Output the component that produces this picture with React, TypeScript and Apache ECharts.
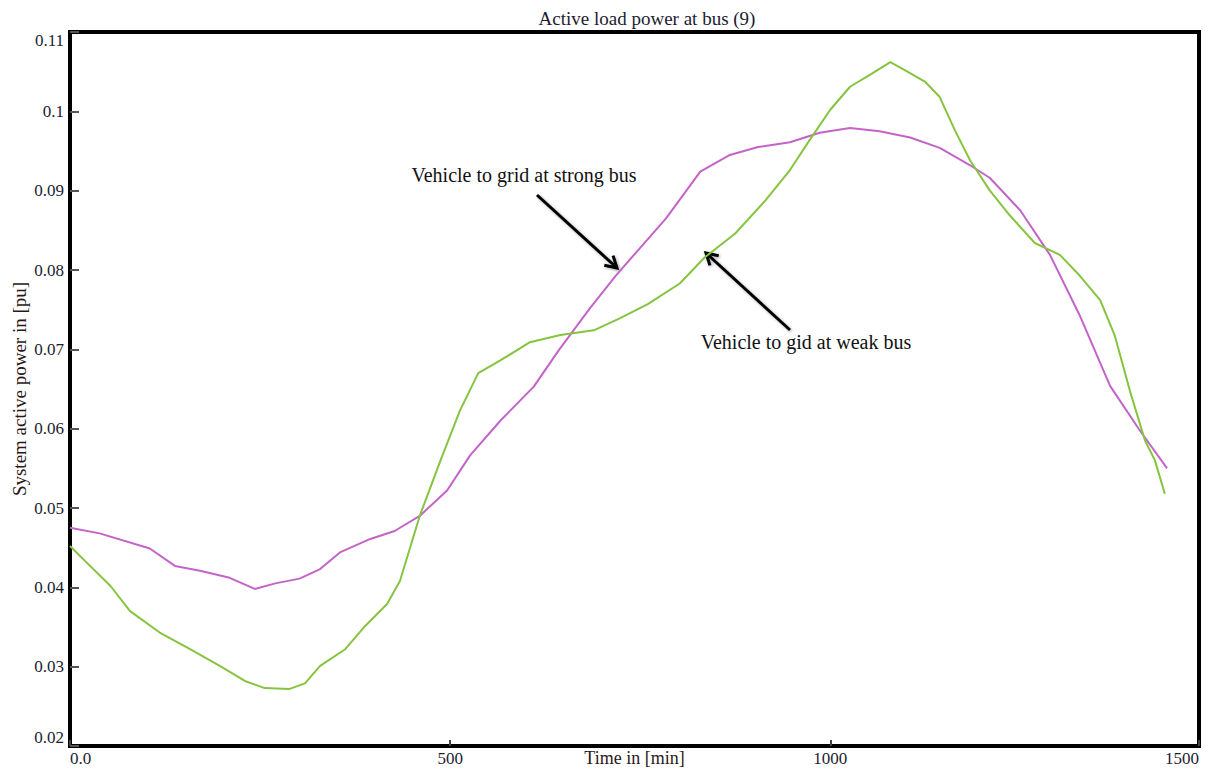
import React, { useEffect, useRef } from "react";
import * as echarts from "echarts";

// Time axis (minutes) and active power (pu) for the two V2G cases
const strongTime = [0, 39, 105, 138, 171, 210, 243, 270, 302, 329, 355, 395, 427, 460, 496, 526, 566, 610, 643, 684, 718, 750, 784, 829, 868, 905, 947, 986, 1026, 1065, 1105, 1144, 1184, 1210, 1250, 1289, 1328, 1368, 1407, 1443];
const strongPower = [0.0475, 0.0468, 0.0449, 0.0427, 0.0421, 0.0412, 0.0398, 0.0405, 0.0411, 0.0423, 0.0444, 0.0461, 0.0471, 0.049, 0.0522, 0.0566, 0.061, 0.0653, 0.0699, 0.0752, 0.0793, 0.0828, 0.0865, 0.0924, 0.0945, 0.0955, 0.0961, 0.0973, 0.0979, 0.0975, 0.0967, 0.0954, 0.0932, 0.0916, 0.0875, 0.0819, 0.0743, 0.0654, 0.0598, 0.055];

const weakTime = [0, 20, 53, 79, 118, 158, 197, 230, 256, 289, 309, 329, 362, 388, 417, 434, 460, 487, 513, 537, 566, 605, 645, 689, 723, 760, 802, 835, 875, 915, 947, 973, 1000, 1026, 1052, 1079, 1098, 1125, 1144, 1164, 1184, 1210, 1236, 1269, 1302, 1328, 1355, 1374, 1394, 1414, 1427, 1440];
const weakPower = [0.0452, 0.0433, 0.0402, 0.037, 0.0343, 0.0322, 0.0301, 0.0282, 0.0273, 0.0272, 0.0279, 0.0301, 0.0322, 0.0351, 0.0379, 0.0408, 0.049, 0.0559, 0.0623, 0.067, 0.0686, 0.0709, 0.0718, 0.0724, 0.0739, 0.0757, 0.0783, 0.0816, 0.0846, 0.0888, 0.0926, 0.0964, 0.1002, 0.1031, 0.1046, 0.1062, 0.1052, 0.1037, 0.1018, 0.0976, 0.0938, 0.09, 0.0869, 0.0834, 0.0819, 0.0793, 0.0762, 0.0718, 0.0648, 0.0585, 0.056, 0.0518];

const xTickLabels = ["0.0", "500", "1000", "1500"];
const X_MAX = 1485;

const FONT = "'Liberation Serif', 'Times New Roman', serif";
const TEXT = "#1c1c30";

// Arrow drawn as a shaft plus an open V head
function arrow(x1: number, y1: number, x2: number, y2: number) {
  const dx = x2 - x1;
  const dy = y2 - y1;
  const len = Math.hypot(dx, dy);
  const ux = -dx / len;
  const uy = -dy / len;
  const h = 13;
  const c = Math.cos(Math.PI / 6);
  const s = Math.sin(Math.PI / 6);
  const a = [x2 + h * (ux * c - uy * s), y2 + h * (ux * s + uy * c)];
  const b = [x2 + h * (ux * c + uy * s), y2 + h * (-ux * s + uy * c)];
  const style = { stroke: "#000", lineWidth: 3, fill: null, shadowBlur: 3, shadowColor: "rgba(0,0,0,0.35)", shadowOffsetX: 1, shadowOffsetY: 1 };
  return [
    { type: "line", shape: { x1, y1, x2, y2 }, style },
    { type: "polyline", shape: { points: [a, [x2, y2], b] }, style },
  ];
}

export default function App() {
  const ref = useRef<HTMLDivElement>(null);

  useEffect(() => {
    if (!ref.current) return;
    const chart = echarts.init(ref.current, null, { renderer: "svg" });

    const strong = strongTime.map((t, i) => [t, strongPower[i]]);
    const weak = weakTime.map((t, i) => [t, weakPower[i]]);

    chart.setOption({
      animation: false,
      backgroundColor: "#fff",
      title: {
        text: "Active load power at bus (9)",
        left: 642,
        top: 4,
        textAlign: "center",
        textStyle: { fontFamily: FONT, fontSize: 19, fontWeight: "normal", color: TEXT },
      },
      grid: {
        left: 70,
        right: 16,
        top: 32,
        bottom: 25,
        outerBoundsMode: "none",
        containLabel: false,
        show: true,
        borderColor: "#000",
        borderWidth: 4,
        backgroundColor: "#fff",
      },
      xAxis: {
        type: "value",
        min: 0,
        max: X_MAX,
        interval: 500,
        name: "Time in [min]",
        nameLocation: "middle",
        nameGap: 3,
        nameMoveOverlap: false,
        nameTextStyle: { fontFamily: FONT, fontSize: 18, color: "#2a1818", verticalAlign: "top" },
        axisLine: { show: false },
        splitLine: { show: false },
        axisTick: { show: true, inside: true, length: 6, lineStyle: { color: "#444", width: 2 } },
        axisLabel: {
          margin: 4,
          fontFamily: FONT,
          fontSize: 17,
          color: TEXT,
          showMinLabel: true,
          showMaxLabel: true,
          alignMinLabel: "left",
          alignMaxLabel: "right",
          formatter: (v: number) => {
            if (v === 0) return xTickLabels[0];
            if (v >= X_MAX) return xTickLabels[3];
            return xTickLabels[Math.round(v / 500)];
          },
        },
      },
      yAxis: {
        type: "value",
        min: 0.02,
        max: 0.11,
        interval: 0.01,
        name: "System active power in [pu]",
        nameLocation: "middle",
        nameGap: 41,
        nameMoveOverlap: false,
        nameTextStyle: { fontFamily: FONT, fontSize: 19, color: "#2a1818" },
        axisLine: { show: false },
        splitLine: { show: false },
        axisTick: { show: true, inside: true, length: 9, lineStyle: { color: "#555", width: 2 } },
        axisLabel: {
          margin: 6,
          fontFamily: FONT,
          fontSize: 17,
          color: TEXT,
          verticalAlignMaxLabel: "top",
          verticalAlignMinLabel: "bottom",
          formatter: (v: number) => String(parseFloat(v.toFixed(2))),
        },
      },
      series: [
        {
          name: "Vehicle to grid at strong bus",
          type: "line",
          data: strong,
          showSymbol: false,
          lineStyle: { color: "#c264c8", width: 2 },
          z: 3,
        },
        {
          name: "Vehicle to gid at weak bus",
          type: "line",
          data: weak,
          showSymbol: false,
          lineStyle: { color: "#86c440", width: 2 },
          z: 4,
        },
      ],
      graphic: [
        {
          type: "text",
          x: 524,
          y: 175,
          style: { text: "Vehicle to grid at strong bus", font: `20px ${FONT}`, fill: "#111", textAlign: "center", textVerticalAlign: "middle" },
        },
        {
          type: "text",
          x: 806,
          y: 342,
          style: { text: "Vehicle to gid at weak bus", font: `20px ${FONT}`, fill: "#111", textAlign: "center", textVerticalAlign: "middle" },
        },
        ...arrow(537, 195, 617, 268),
        ...arrow(790, 330, 706, 253),
      ],
    });

    return () => chart.dispose();
  }, []);

  return <div ref={ref} style={{ position: "absolute", left: 0, top: 0, width: 1215, height: 771 }} />;
}
